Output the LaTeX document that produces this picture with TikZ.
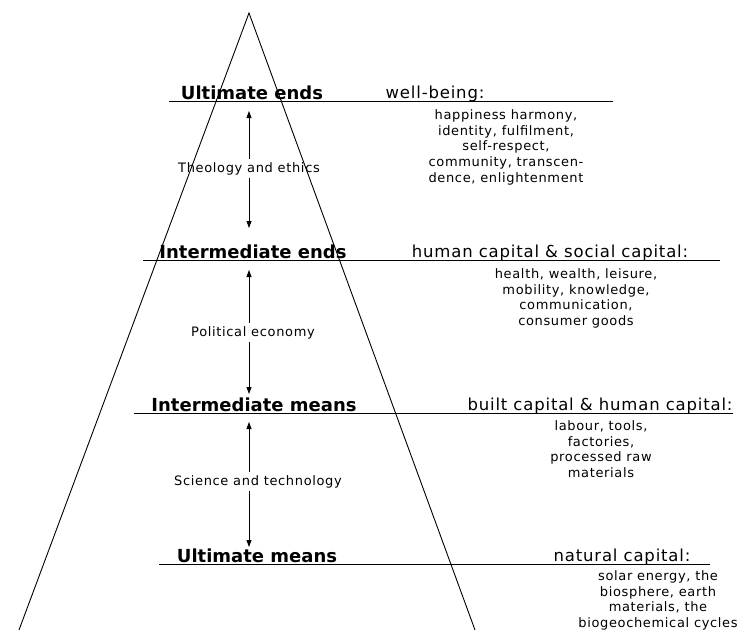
\documentclass[tikz,border=0pt]{standalone}
\usepackage{fontspec}
\setmainfont{DejaVu Sans}
\newfontfamily\spacedfont{DejaVu Sans}[LetterSpace=5]
\usetikzlibrary{arrows.meta}

\begin{document}
\begin{tikzpicture}[x=1pt, y=-1pt, line width=0.9pt,
  level/.style={font=\bfseries\fontsize{18}{20}\selectfont, anchor=base},
  capital/.style={font=\spacedfont\fontsize{16.5}{20}\selectfont, anchor=base},
  items/.style={font=\spacedfont\fontsize{13}{15.7}\selectfont, align=center, anchor=north, inner sep=0pt},
  field/.style={font=\spacedfont\fontsize{13}{15}\selectfont, anchor=base, inner sep=3pt},
  arr/.style={-{Triangle[length=7pt,width=5pt]}, line width=0.8pt}]
\useasboundingbox (0,0) rectangle (747,630);
\clip (0,0) rectangle (747,630);
\coordinate (apex) at (249,13);
\coordinate (baseL) at (19,630);
\coordinate (baseR) at (475,630);
\draw (baseL) -- (apex) -- (baseR);
\draw (169,101.5) -- (613,101.5);
\draw (143,260.5) -- (720,260.5);
\draw (134,413) -- (733,413);
\draw (159,564.5) -- (710,564.5);
\node[level] (uends) at (252,99.5) {Ultimate ends};
\node[level] (iends) at (253,258.5) {Intermediate ends};
\node[level] (imeans) at (254,411) {Intermediate means};
\node[level] (umeans) at (257,562.5) {Ultimate means};
\node[capital] (wellb) at (435,98.5) {well-being:};
\node[capital] (hsc) at (550,257.5) {human capital \& social capital:};
\node[capital] (bhc) at (600,410) {built capital \& human capital:};
\node[capital] (nc) at (622,561.5) {natural capital:};
\node[items] (uendsl) at (506,109) {happiness harmony,\\identity, fulfilment,\\self-respect,\\community, transcen-\\dence, enlightenment};
\node[items] (iendsl) at (576,268) {health, wealth, leisure,\\mobility, knowledge,\\communication,\\consumer goods};
\node[items] (imeansl) at (601,420) {labour, tools,\\factories,\\processed raw\\materials};
\node[items] (umeansl) at (658,570) {solar energy, the\\biosphere, earth\\materials, the\\biogeochemical cycles};
\node[field] (theo) at (249,172) {Theology and ethics};
\node[field] (pol) at (253,336) {Political economy};
\node[field] (sci) at (258,485) {Science and technology};
\coordinate (a1top) at (249,111);
\coordinate (a1bot) at (249,228);
\coordinate (a2top) at (249,270);
\coordinate (a2bot) at (249,394);
\coordinate (a3top) at (249,422);
\coordinate (a3bot) at (249,547);
\draw[arr] (a1top |- theo.north) -- (a1top);
\draw[arr] (a1bot |- theo.south) -- (a1bot);
\draw[arr] (a2top |- pol.north) -- (a2top);
\draw[arr] (a2bot |- pol.south) -- (a2bot);
\draw[arr] (a3top |- sci.north) -- (a3top);
\draw[arr] (a3bot |- sci.south) -- (a3bot);
\end{tikzpicture}
\end{document}
